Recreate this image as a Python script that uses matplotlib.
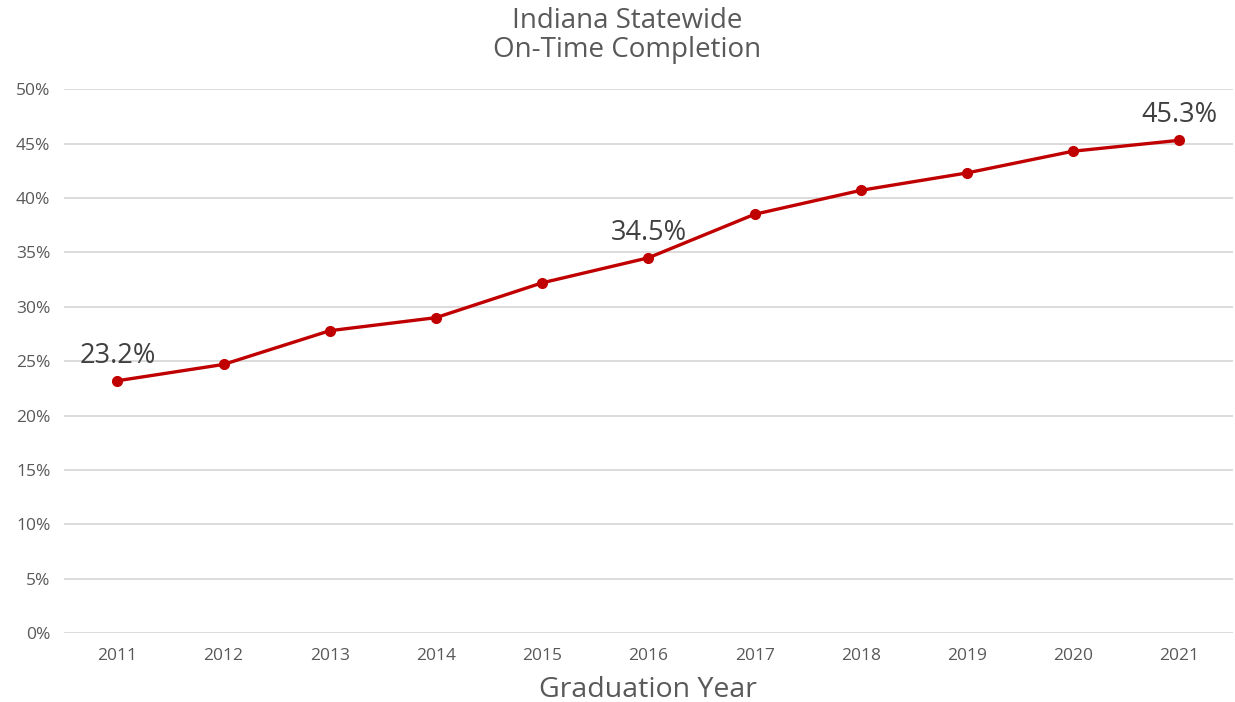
import matplotlib
matplotlib.use("Agg")
import matplotlib.pyplot as plt
from matplotlib.ticker import PercentFormatter

years = ["2011", "2012", "2013", "2014", "2015", "2016", "2017", "2018", "2019", "2020", "2021"]
rates = [0.232, 0.247, 0.278, 0.290, 0.322, 0.345, 0.385, 0.407, 0.423, 0.443, 0.453]
labelled = {0: "23.2%", 5: "34.5%", 10: "45.3%"}

plt.rcParams['font.family'] = ['Open Sans', 'DejaVu Sans']
grey = "#595959"

fig = plt.figure(figsize=(12.35, 7.02), dpi=100)
ax = fig.add_axes([0.052, 0.098, 0.946, 0.775])

x = list(range(len(years)))
ax.plot(x, rates, color="#C00000", lw=2.4, marker="o", ms=7, zorder=3, clip_on=False)

for i, txt in labelled.items():
    ax.annotate(txt, (x[i], rates[i]), xytext=(0, 8), textcoords="offset points",
                ha="center", va="bottom", fontsize=19.5, color="#404040")

ax.set_xlim(-0.5, len(years) - 0.5)
ax.set_ylim(0, 0.5)
ax.set_yticks([i * 0.05 for i in range(11)])
ax.yaxis.set_major_formatter(PercentFormatter(1.0, decimals=0))
ax.set_xticks(x)
ax.set_xticklabels(years)
ax.tick_params(axis="both", length=0, labelsize=12.5, colors=grey)
ax.tick_params(axis="x", pad=11)
ax.tick_params(axis="y", pad=10)
ax.grid(axis="y", color="#D9D9D9", lw=1.3)
ax.set_axisbelow(True)
for s in ax.spines.values():
    s.set_visible(False)

ax.set_xlabel("Graduation Year", fontsize=20.5, color=grey, labelpad=8)
fig.text(0.508, 0.95, "Indiana Statewide\nOn-Time Completion", ha="center", va="center",
         fontsize=20, color=grey, linespacing=1.05)

fig.savefig("out.png", dpi=100)
